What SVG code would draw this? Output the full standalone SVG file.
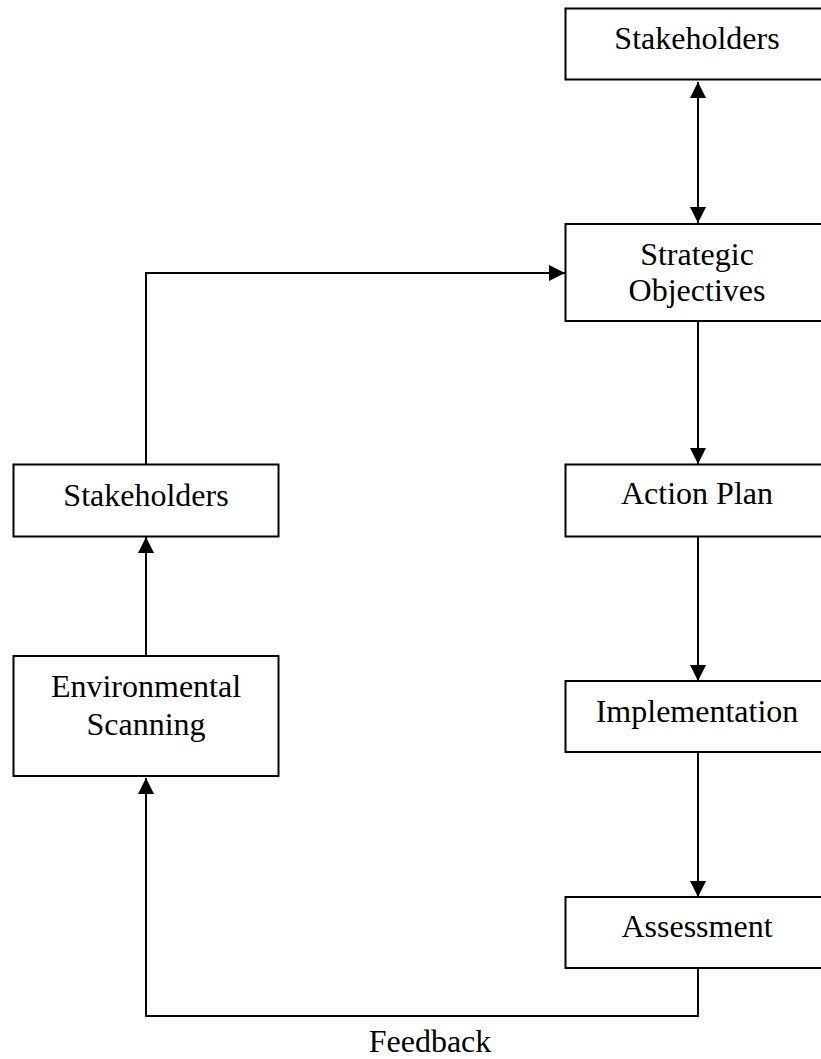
<svg xmlns="http://www.w3.org/2000/svg" width="821" height="1059" viewBox="0 0 821 1059">
<style>
.box{fill:#fff;stroke:#000;stroke-width:2}
.lbl{font-family:"Liberation Serif","Times New Roman",serif;font-size:32px;fill:#000;text-anchor:middle}
.con{fill:none;stroke:#000;stroke-width:2}
</style>
<defs>
<marker id="ah" markerUnits="userSpaceOnUse" markerWidth="16" markerHeight="16" viewBox="0 0 16 16" refX="16" refY="8" orient="auto-start-reverse">
<path d="M0,0 L16,8 L0,16 Z" fill="#000"/>
</marker>
</defs>
<rect width="821" height="1059" fill="#fff"/>
<g id="connectors">
<line class="con" x1="698" y1="82" x2="698" y2="223" marker-start="url(#ah)" marker-end="url(#ah)"/>
<polyline class="con" points="146,464 146,273 565,273" marker-end="url(#ah)"/>
<line class="con" x1="698" y1="321" x2="698" y2="464" marker-end="url(#ah)"/>
<line class="con" x1="698" y1="537" x2="698" y2="681" marker-end="url(#ah)"/>
<line class="con" x1="698" y1="752" x2="698" y2="897" marker-end="url(#ah)"/>
<line class="con" x1="146" y1="656" x2="146" y2="537" marker-end="url(#ah)"/>
<polyline class="con" points="698,968 698,1016 146,1016 146,778" marker-end="url(#ah)"/>
</g>
<g id="stakeholders-top">
<rect class="box" x="565.5" y="8.5" width="258" height="71"/>
<text class="lbl" x="697" y="49">Stakeholders</text>
</g>
<g id="strategic-objectives">
<rect class="box" x="565.5" y="224" width="258" height="97"/>
<text class="lbl" x="697" y="265">Strategic</text>
<text class="lbl" x="697" y="301">Objectives</text>
</g>
<g id="action-plan">
<rect class="box" x="565.5" y="464.5" width="258" height="72"/>
<text class="lbl" x="697" y="504">Action Plan</text>
</g>
<g id="implementation">
<rect class="box" x="565.5" y="681" width="258" height="71"/>
<text class="lbl" x="697" y="722">Implementation</text>
</g>
<g id="assessment">
<rect class="box" x="565.5" y="897" width="258" height="71"/>
<text class="lbl" x="697" y="937">Assessment</text>
</g>
<g id="stakeholders-left">
<rect class="box" x="13.5" y="464.5" width="265" height="72"/>
<text class="lbl" x="146" y="506">Stakeholders</text>
</g>
<g id="environmental-scanning">
<rect class="box" x="13.5" y="656" width="265" height="120"/>
<text class="lbl" x="146" y="697">Environmental</text>
<text class="lbl" x="146" y="735">Scanning</text>
</g>
<g id="feedback-label">
<text class="lbl" x="430" y="1052">Feedback</text>
</g>
</svg>
